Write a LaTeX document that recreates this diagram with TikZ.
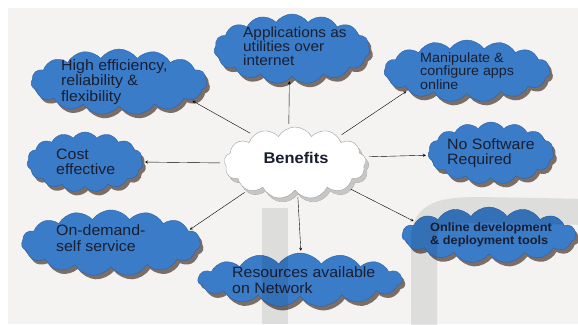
\documentclass[tikz,border=0pt]{standalone}
\usepackage{fontspec}
\setmainfont[FakeStretch=1.06]{Liberation Sans}
\usetikzlibrary{shapes.symbols, shadows, arrows, calc, positioning}

\definecolor{cloudblue}{RGB}{58,124,200}
\definecolor{cloudedge}{RGB}{44,98,168}
\definecolor{cloudshadow}{RGB}{122,110,102}
\definecolor{inktext}{RGB}{25,30,48}
\definecolor{paper}{RGB}{244,243,241}

\tikzstyle{bluecloud} = [cloud, cloud puffs=15, cloud puff arc=110, cloud ignores aspect,
inner sep=0pt, draw=cloudedge, line width=0.4pt, fill=cloudblue,
drop shadow={shadow xshift=3pt, shadow yshift=-4pt, fill=cloudshadow, opacity=1}]
\tikzstyle{maincloud} = [bluecloud, cloud puffs=13, cloud puff arc=120, draw=gray!75, fill=white,
drop shadow={shadow xshift=3pt, shadow yshift=-4pt, fill=gray!45, opacity=1}]
\tikzstyle{cloudtext} = [anchor=west, align=left, inner sep=0pt, text=inktext,
font=\fontsize{15}{15.5}\selectfont]
\tikzstyle{arrow} = [thin,->,>=stealth, shorten <=4pt, shorten >=2pt]

\begin{document}
\begin{tikzpicture}[x=1pt, y=-1pt]
      \useasboundingbox (0,0) rectangle (578,324);
      \fill[white] (0,0) rectangle (578,324);
      \fill[paper] (8,8) rectangle (578,324);

      \node (ben) [maincloud, minimum width=142pt, minimum height=72pt] at (295,163) {};
      \node (app) [bluecloud, minimum width=156pt, minimum height=70pt] at (292,49) {};
      \node (high) [bluecloud, minimum width=176pt, minimum height=66pt] at (119,82) {};
      \node (mani) [bluecloud, minimum width=166pt, minimum height=62pt] at (467,71) {};
      \node (cost) [bluecloud, minimum width=116pt, minimum height=60pt] at (85,162) {};
      \node (nosw) [bluecloud, minimum width=126pt, minimum height=62pt] at (491,153) {};
      \node (ondm) [bluecloud, minimum width=179pt, minimum height=66pt] at (111,243) {};
      \node (onl) [bluecloud, minimum width=174pt, minimum height=56pt] at (489,235) {};
      \node (res) [bluecloud, minimum width=204pt, minimum height=54pt] at (300,280) {};

      \node (bent) [cloudtext, anchor=center, font=\fontsize{15.5}{16}\selectfont\bfseries] at (296,158) {Benefits};
      \node (appt) [cloudtext, font=\fontsize{14.5}{14}\selectfont] at (243,46) {Applications as\\utilities over\\internet};
      \node (hight) [cloudtext] at (61,82) {High efficiency,\\reliability \&\\flexibility};
      \node (manit) [cloudtext, font=\fontsize{13.5}{13.5}\selectfont] at (420,71) {Manipulate \&\\configure apps\\online};
      \node (costt) [cloudtext] at (56,162) {Cost\\effective};
      \node (noswt) [cloudtext] at (447,153) {No Software\\Required};
      \node (ondmt) [cloudtext] at (56,238) {On-demand-\\self service};
      \node (onlt) [cloudtext, font=\fontsize{12}{12.5}\selectfont\bfseries] at (430,235) {Online development\\\& deployment tools};
      \node (rest) [cloudtext] at (232,280) {Resources available\\on Network};

      \draw [arrow] (ben.100) -- (app.265);
      \draw [arrow] (ben.146) -- (high.-14);
      \draw [arrow] (ben.31) -- (mani.198);
      \draw [arrow] (ben.180) -- (cost.0);
      \draw [arrow] (ben.5) -- (nosw.182);
      \draw [arrow] (ben.210) -- (ondm.9);
      \draw [arrow] (ben.275) -- (res.88);
      \draw [arrow] (ben.-25) -- (onl.170);

      % faint lettering over the lower half
      \fill[black, opacity=0.09] (262,208) rectangle (288,324);
      \draw[black, opacity=0.09, line width=26pt]
        (424,330) -- (424,240) .. controls (424,214) and (442,210) .. (480,210) -- (590,212);
    \end{tikzpicture}
\end{document}
